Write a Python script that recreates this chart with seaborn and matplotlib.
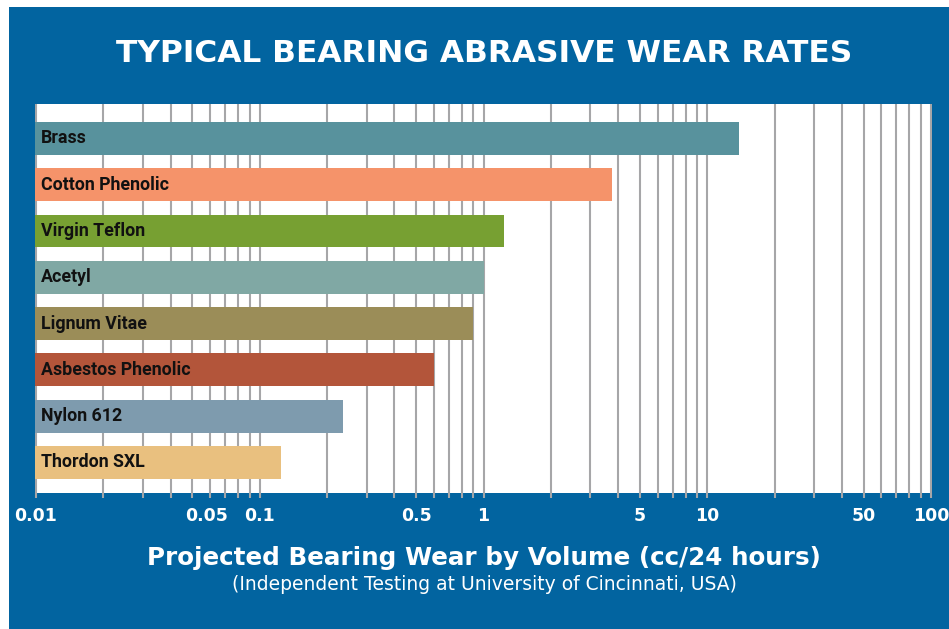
import matplotlib
matplotlib.use("Agg")
import matplotlib.pyplot as plt
import matplotlib.transforms as mtransforms
from matplotlib.patches import Rectangle
from matplotlib.ticker import LogLocator, NullFormatter, FixedLocator, FixedFormatter
import seaborn as sns
import pandas as pd

materials = ["Brass", "Cotton Phenolic", "Virgin Teflon", "Acetyl",
             "Lignum Vitae", "Asbestos Phenolic", "Nylon 612", "Thordon SXL"]
wear = [13.9, 3.75, 1.23, 1.0, 0.90, 0.60, 0.235, 0.125]
colors = ["#58929d", "#f5936a", "#77a032", "#80a8a4",
          "#9b8d58", "#b3553a", "#7e9bae", "#e9c07f"]
tick_values = [0.01, 0.05, 0.1, 0.5, 1, 5, 10, 50, 100]
tick_labels = ["0.01", "0.05", "0.1", "0.5", "1", "5", "10", "50", "100"]

title = "TYPICAL BEARING ABRASIVE WEAR RATES"
xlabel = "Projected Bearing Wear by Volume (cc/24 hours)"
subtitle = "(Independent Testing at University of Cincinnati, USA)"

df = pd.DataFrame({"material": materials, "wear": wear})

sns.set_theme(style="white")
plt.rcParams["font.family"] = ["DejaVu Sans"]

W, H = 949, 629
BLUE = "#0264a0"
GRID = "#a6a6a8"

fig = plt.figure(figsize=(W / 100, H / 100), dpi=100, facecolor="white")
fig.patches.append(Rectangle((9 / W, 0), 1 - 9 / W, 1 - 7 / H, transform=fig.transFigure,
                             facecolor=BLUE, edgecolor="none", zorder=-10))

left, right, top, bottom = 35, 932, 104, 493
ax = fig.add_axes([left / W, 1 - bottom / H, (right - left) / W, (bottom - top) / H])
ax.set_facecolor("white")

sns.barplot(data=df, x="wear", y="material", hue="material", palette=colors,
            legend=False, orient="h", width=0.71, saturation=1, linewidth=0,
            edgecolor="none", ax=ax, zorder=3)
ax.set_xscale("log")
ax.set_xlim(10 ** (-2 - 1 / 224), 10 ** (2 + 1 / 224))
ax.set_ylim(7.66, -0.745)

ax.xaxis.set_major_locator(FixedLocator(tick_values))
ax.xaxis.set_major_formatter(FixedFormatter(tick_labels))
ax.xaxis.set_minor_locator(LogLocator(base=10, subs=range(2, 10), numticks=20))
ax.xaxis.set_minor_formatter(NullFormatter())
ax.grid(which="both", axis="x", color=GRID, lw=1.5, zorder=0)
ax.set_axisbelow(True)
ax.tick_params(axis="x", which="both", direction="out", length=3.8, width=1.5,
               color=GRID, bottom=True, pad=6)
ax.tick_params(axis="x", which="major", labelsize=12.5, labelcolor="white")
for lab in ax.get_xticklabels():
    lab.set_fontweight("bold")
    lab.set_family(["DejaVu Sans"])
ax.set_yticks([])
ax.set_xlabel("")
ax.set_ylabel("")
for s in ax.spines.values():
    s.set_visible(False)

# shift "0.05" label slightly right as in the reference
offset = mtransforms.ScaledTranslation(14 / 100, 0, fig.dpi_scale_trans)
for t in ax.xaxis.get_major_ticks():
    if t.label1.get_text() == "0.05":
        t.label1.set_transform(t.label1.get_transform() + offset)

trans = mtransforms.blended_transform_factory(ax.transAxes, ax.transData)
for i, name in enumerate(materials):
    ax.text(6 / (right - left), i, name, transform=trans, ha="left", va="center",
            fontsize=12.8, fontweight="bold", color="#111111",
            family=["Roboto", "DejaVu Sans"], zorder=5)

fig.text(484 / W, 1 - 54 / H, title, ha="center", va="center", color="white",
         fontsize=22.5, fontweight="bold", family=["DejaVu Sans"])
fig.text(484 / W, 1 - 558 / H, xlabel, ha="center", va="center", color="white",
         fontsize=17.7, fontweight="bold", family=["DejaVu Sans"])
fig.text(484 / W, 1 - 585 / H, subtitle, ha="center", va="center", color="white",
         fontsize=13.5, family=["DejaVu Sans"])

fig.savefig("out.png", dpi=100, facecolor="white")
